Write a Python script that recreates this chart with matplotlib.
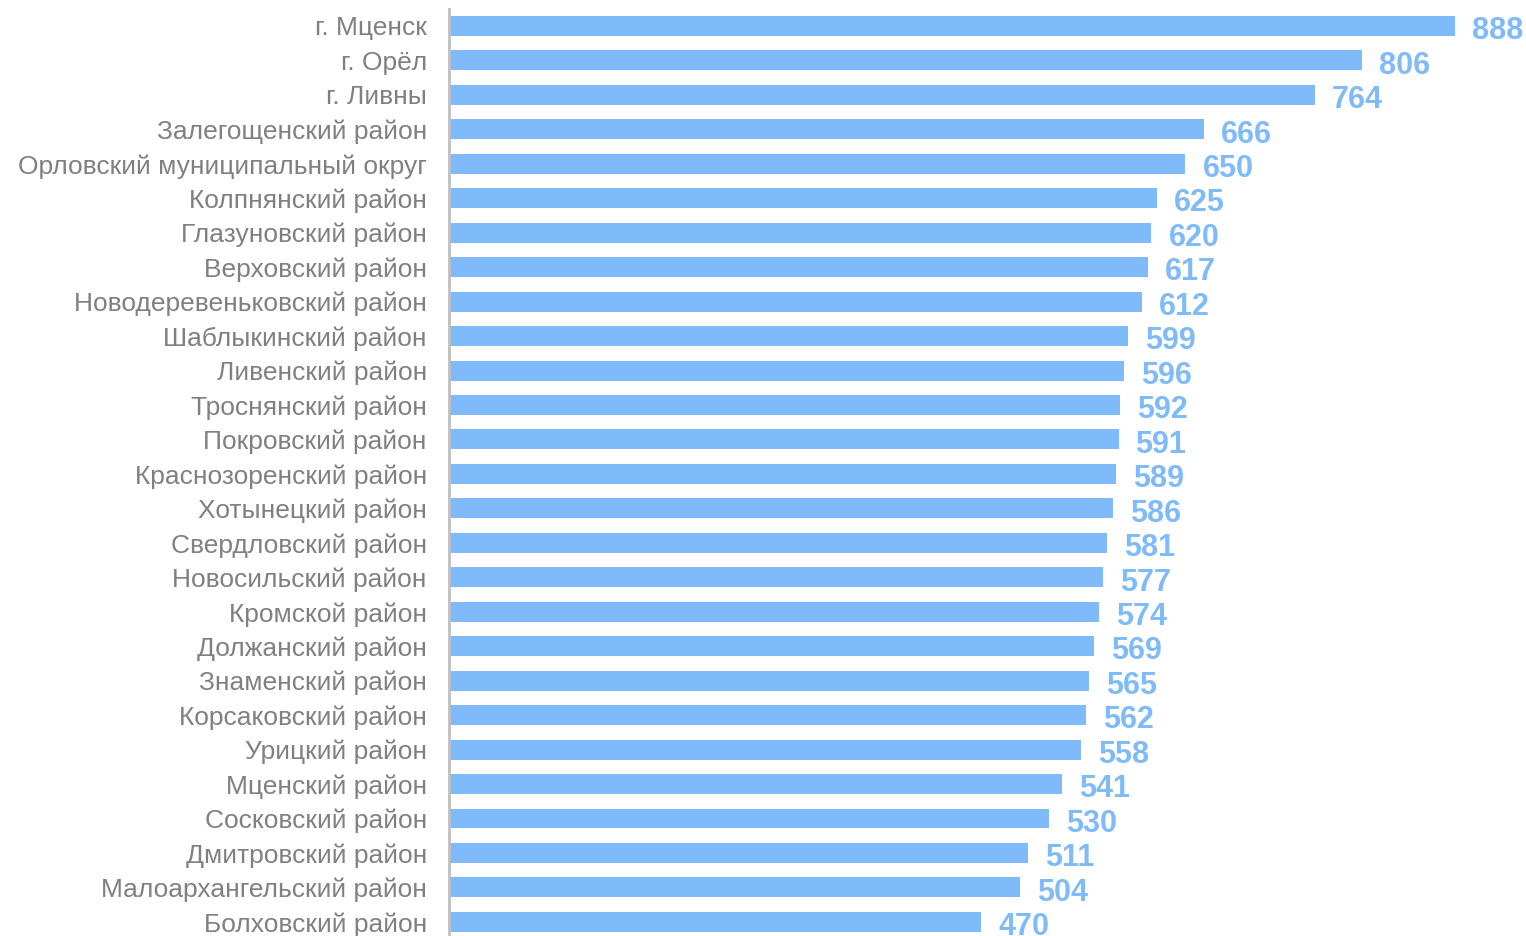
import matplotlib
matplotlib.use("Agg")
import matplotlib.pyplot as plt
import numpy as np

# data
districts = ["г. Мценск", "г. Орёл", "г. Ливны", "Залегощенский район",
             "Орловский муниципальный округ", "Колпнянский район",
             "Глазуновский район", "Верховский район", "Новодеревеньковский район",
             "Шаблыкинский район", "Ливенский район", "Троснянский район",
             "Покровский район", "Краснозоренский район", "Хотынецкий район",
             "Свердловский район", "Новосильский район", "Кромской район",
             "Должанский район", "Знаменский район", "Корсаковский район",
             "Урицкий район", "Мценский район", "Сосковский район",
             "Дмитровский район", "Малоархангельский район", "Болховский район"]
values = [888, 806, 764, 666, 650, 625, 620, 617, 612, 599, 596, 592, 591, 589,
          586, 581, 577, 574, 569, 565, 562, 558, 541, 530, 511, 504, 470]

plt.rcParams['font.family'] = ['Liberation Sans', 'DejaVu Sans']

fig = plt.figure(figsize=(15.26, 9.36), dpi=100)
ax = fig.add_axes([449/1526, 0, 1 - 449/1526, 1 - 9/936])

y = np.arange(len(districts))
ax.barh(y, values, height=0.58, color='#7fbbfa')
for yi, v in zip(y, values):
    ax.text(v + 15, yi + 0.05, str(v), va='center_baseline', ha='left', fontsize=22,
            fontweight='bold', color='#7fbbfa')

ax.set_yticks(y)
ax.set_yticklabels(districts, fontsize=19, color='#808080')
ax.tick_params(axis='y', length=0, pad=16)
ax.set_xticks([])
ax.set_xlim(0, 950.6)
ax.set_ylim(26.41, -0.493)
for s in ['top', 'right', 'bottom']:
    ax.spines[s].set_visible(False)
ax.spines['left'].set_color('#bfbfbf')
ax.spines['left'].set_linewidth(2)

fig.savefig('out.png', dpi=100)
